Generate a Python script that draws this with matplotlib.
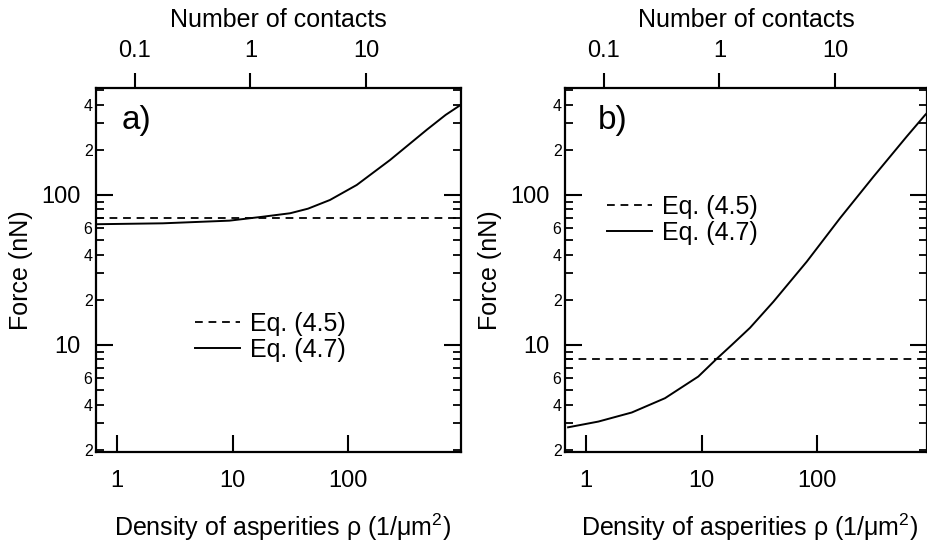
import matplotlib
matplotlib.use("Agg")
import matplotlib.pyplot as plt
import numpy as np
from matplotlib.ticker import FixedLocator, FuncFormatter, NullLocator

plt.rcParams["font.family"] = ["Liberation Sans", "DejaVu Sans"]
plt.rcParams["mathtext.fontset"] = "custom"
plt.rcParams["mathtext.rm"] = "Liberation Sans"
plt.rcParams["mathtext.default"] = "regular"

# ---- data ----
# panel a)
rho_a = [0.66, 2.49, 9.4, 18.3, 31.5, 45, 69.8, 119, 231, 483, 700, 951]
force_a = [63.8, 64.7, 67.4, 71.6, 75.5, 81, 92.6, 116.6, 171, 273, 342, 400]
eq45_a = 70.2
# panel b)
rho_b = [0.70, 1.28, 2.49, 4.83, 9.38, 13.5, 18.3, 26.3, 41.9, 81.5,
         158, 307, 597, 861, 896]
force_b = [2.82, 3.08, 3.54, 4.41, 6.15, 8.06, 10.0, 13.0, 19.4, 35.9,
           69.9, 132, 245, 341, 352]
eq45_b = 8.1

contacts_per_rho = 0.07   # number of contacts = rho * contact area
xlims = [(0.658, 951), (0.658, 896)]
ylim = (1.93, 517)

xmajor = [1, 10, 100]
top_major = [0.1, 1, 10]
ymajor = [10, 100]
yminor = [m * d for d in (1, 10, 100) for m in range(2, 10)]
yminor_labeled = [2, 4, 6]

fig = plt.figure(figsize=(9.27, 5.48), dpi=100)
W, H = 927, 548
boxes = [(96, 88, 365, 364), (565, 88, 362, 364)]


def minor_fmt(v, pos):
    d = int(round(v / 10 ** np.floor(np.log10(v) + 1e-9)))
    return str(d) if d in yminor_labeled else ""


def style(ax, xl):
    ax.set_xscale("log")
    ax.set_yscale("log")
    ax.set_xlim(*xl)
    ax.set_ylim(*ylim)
    for s in ax.spines.values():
        s.set_linewidth(1.6)
    ax.xaxis.set_major_locator(FixedLocator(xmajor))
    ax.xaxis.set_minor_locator(NullLocator())
    ax.xaxis.set_major_formatter(FuncFormatter(lambda v, p: "%g" % v))
    ax.yaxis.set_major_locator(FixedLocator(ymajor))
    ax.yaxis.set_minor_locator(FixedLocator(yminor))
    ax.yaxis.set_major_formatter(FuncFormatter(lambda v, p: "%g" % v))
    ax.yaxis.set_minor_formatter(FuncFormatter(minor_fmt))
    ax.tick_params(axis="x", which="major", direction="in", length=12, width=1.5,
                   labelsize=17, pad=13, top=False)
    ax.tick_params(axis="y", which="major", direction="in", length=12, width=1.5,
                   labelsize=17, pad=11, right=True)
    ax.tick_params(axis="y", which="minor", direction="in", length=6, width=1.3,
                   labelsize=11.5, pad=2.5, right=True)
    ax.set_xlabel(r"Density of asperities ρ (1/μm$^{2}$)", fontsize=18)
    ax.xaxis.set_label_coords(0.51, -0.165)
    ax.set_ylabel("Force (nN)", fontsize=18)
    ax.yaxis.set_label_coords(-0.173, 0.5)

    top = ax.twiny()
    top.set_xscale("log")
    top.set_xlim(xl[0] * contacts_per_rho, xl[1] * contacts_per_rho)
    top.xaxis.set_major_locator(FixedLocator(top_major))
    top.xaxis.set_minor_locator(NullLocator())
    top.xaxis.set_major_formatter(FuncFormatter(lambda v, p: "%g" % v))
    top.tick_params(axis="x", which="major", direction="out", length=11, width=1.5,
                    labelsize=17, pad=8)
    top.set_xlabel("Number of contacts", fontsize=18)
    top.xaxis.set_label_coords(0.5, 1.168)
    for s in top.spines.values():
        s.set_visible(False)
    return top


specs = [
    (rho_a, force_a, eq45_a, "a)", 0.071, (0.271, 0.317)),
    (rho_b, force_b, eq45_b, "b)", 0.091, (0.116, 0.637)),
]
for (x0, y0, w, h), xl, (rho, force, eq45, tag, tx, lpos) in zip(boxes, xlims, specs):
    ax = fig.add_axes([x0 / W, 1 - (y0 + h) / H, w / W, h / H])
    style(ax, xl)
    ax.axhline(eq45, color="black", lw=1.3, dashes=(4.3, 3.2), label="Eq. (4.5)")
    ax.plot(rho, force, color="black", lw=1.4, label="Eq. (4.7)")
    ax.text(tx, 0.912, tag, transform=ax.transAxes, fontsize=24,
            ha="left", va="center")
    ax.legend(loc="center left", bbox_to_anchor=lpos, frameon=False, fontsize=18,
              borderpad=0, borderaxespad=0, handlelength=1.8, handletextpad=0.4,
              labelspacing=0.08)

fig.savefig("out.png", dpi=100)
